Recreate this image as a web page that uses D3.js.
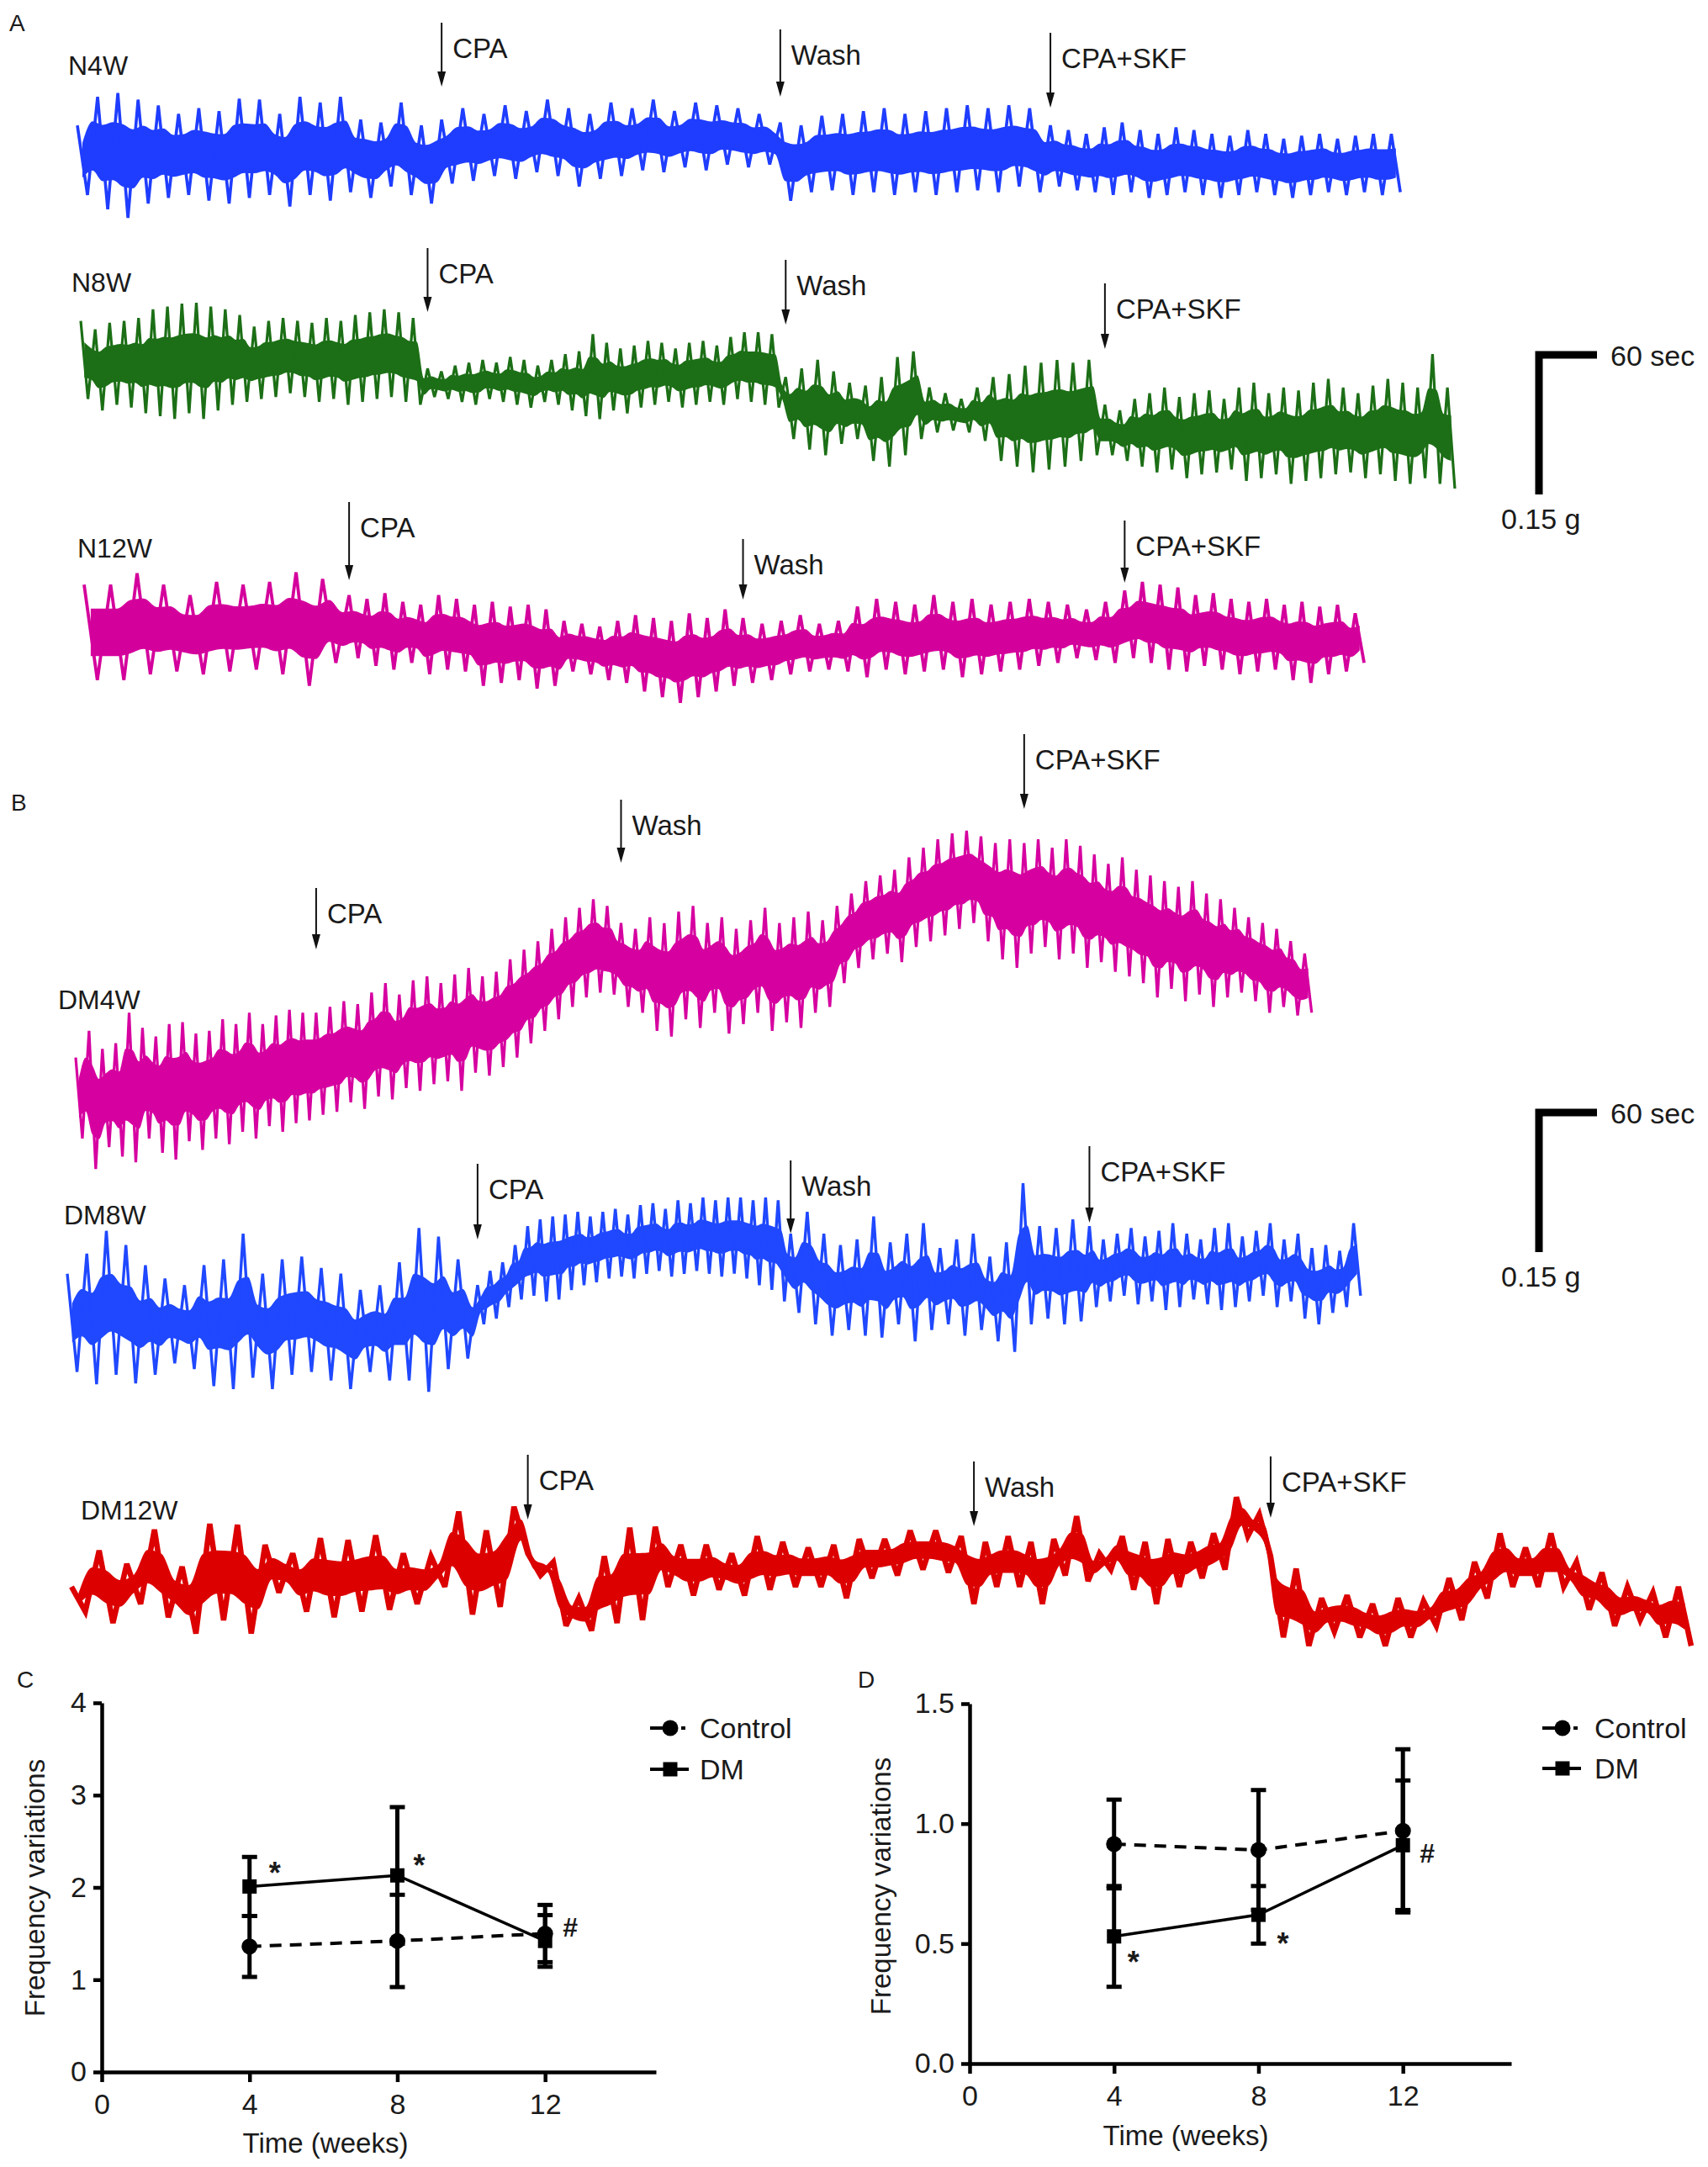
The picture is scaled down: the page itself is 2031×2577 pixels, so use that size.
<!DOCTYPE html>
<html>
<head>
<meta charset="utf-8">
<script src="https://cdn.jsdelivr.net/npm/d3@7/dist/d3.min.js"></script>
<style>
  body { margin: 0; background: #fff; }
  svg text { font-family: "Liberation Sans", Arial, Helvetica, sans-serif; fill: #1a1a1a; }
</style>
</head>
<body>
<svg id="fig" width="2031" height="2577"></svg>
<script>
// ---------- recordings: alternating peak / trough tension (mg), one array per step ----------
var eventLabels = ["CPA", "Wash", "CPA+SKF"];

// event times in s: CPA, Wash, CPA+SKF, end of record
var n4wTimes = [356, 687, 951, 1293];
var n4wBase = [29,-44,59,-59,63,-68,56,-53,50,-47,41,-44,47,-50,44,-53,57,-47,56,-44,41,-56,59,-44,53,-50,59,-41,35,-47,32,-35,53,-44,29,-53];
var n4wCpa  = [35,-32,47,-29,41,-24,50,-27,44,-20,56,-24,47,-35,41,-27,53,-24,47,-18,56,-20,44,-15,53,-18,50,-12,47,-15,41,-12];
var n4wWash = [32,-50,29,-41,39,-39,41,-44,44,-41,47,-44,41,-41,44,-44,47,-41,50,-39,47,-41,50,-35,47,-41];
var n4wSkf  = [29,-35,24,-39,20,-41,27,-44,32,-41,24,-47,20,-44,27,-41,24,-44,20,-47,18,-44,24,-41,20,-44,15,-47,18,-44,20,-41,15,-44,18,-41,20,-44,20,-41];

var n8wTimes = [339, 689, 1001, 1343];
var n8wBase = [41,-41,32,-53,39,-47,41,-50,44,-56,53,-59,56,-62,59,-56,60,-62,56,-53,53,-47,47,-44,35,-41,41,-39,44,-35,41,-39,39,-44,44,-41,41,-47,47,-44,50,-41,53,-39,50,-44,44,-47];
var n8wCpa  = [-9,-39,-12,-41,-6,-44,-3,-47,0,-41,-3,-44,3,-47,0,-50,-6,-44,0,-47,6,-53,9,-59,27,-62,18,-53,12,-56,15,-50,20,-47,18,-44,12,-50,18,-47,20,-44,15,-47,24,-41,29,-44,29,-47,27,-50];
var n8wWash = [-18,-83,-9,-94,0,-100,-12,-88,-24,-83,-27,-106,-18,-112,3,-100,9,-83,-29,-76,-35,-74,-41,-76,-29,-85,-18,-106,-15,-112,-6,-118,-3,-115,0,-112,-3,-106,0,-100];
var n8wSkf  = [-47,-100,-53,-106,-41,-112,-35,-118,-29,-115,-39,-124,-35,-120,-32,-118,-41,-115,-29,-127,-24,-124,-35,-120,-29,-130,-32,-127,-24,-124,-20,-120,-29,-118,-35,-124,-27,-120,-20,-127,-24,-130,-29,-124,6,-130,-29,-135];

var n12wTimes = [259, 644, 1017, 1251];
var n12wBase = [50,-50,50,-50,62,-44,50,-41,39,-44,53,-41,50,-39,53,-44,63,-56,56,-32];
var n12wCpa  = [39,-27,35,-35,41,-39,32,-32,29,-44,39,-39,35,-41,29,-56,32,-53,27,-50,29,-59,24,-56,12,-41,9,-44,6,-50,12,-53,18,-62,15,-68,12,-74,20,-68,15,-62,24,-56];
var n12wWash = [15,-53,9,-50,12,-44,18,-41,9,-39,12,-41,27,-47,35,-39,32,-44,29,-41,39,-39,32,-47,35,-44,29,-41,32,-39,35,-35,32,-32,29,-27,24,-29,32,-32];
var n12wSkf  = [44,-27,53,-32,50,-39,47,-41,39,-35,41,-39,35,-44,32,-41,35,-39,29,-50,32,-53,27,-44,29,-41,20,-32];

var dm4wTimes = [235, 533, 927, 1208];
var dm4wBase = [41,-44,69,-76,50,-53,56,-63,88,-69,72,-44,63,-59,76,-66,78,-47,66,-56,69,-44,81,-50,76,-37,88,-44,76,-31,85,-37,91,-28,88,-25];
var dm4wCpa  = [88,-19,94,-16,100,-6,97,-13,109,0,119,-3,107,9,122,6,126,13,119,16,128,6,135,25,126,22,131,31,144,41,154,56,163,69,176,81,188,94,198,104,207,109,200,107];
var dm4wWash = [182,94,176,88,188,69,182,63,194,81,200,72,182,88,188,66,176,76,185,88,198,69,182,78,188,72,194,88,185,94,200,119,213,135,226,144,232,150,238,141,251,157,261,163,270,169,276,176,279,182,273,163,266,144,270,135];
var dm4wSkf  = [266,150,270,157,261,144,270,150,263,135,254,141,244,131,251,126,238,119,232,104,226,113,220,100,226,107,213,94,207,104,198,109,188,100,182,88,176,94,163,85,150,88];

var dm8wTimes = [401, 707, 999, 1264];
var dm8wBase = [47,-56,68,-69,92,-59,77,-68,56,-59,42,-47,35,-53,56,-71,62,-74,89,-62,47,-74,62,-59,65,-56,53,-65,47,-74,30,-56,35,-65,59,-65,95,-77,86,-53,62,-42];
var dm8wCpa  = [35,-6,50,0,59,12,77,20,97,24,104,18,107,20,109,30,112,35,107,38,112,42,115,44,109,42,119,47,121,50,115,44,124,47,121,50,127,47,124,44,127,47,127,42,124,35,127,30,124,18];
var dm8wWash = [89,6,112,-6,89,-18,77,-12,83,-18,107,-20,80,-6,89,-24,100,-12,74,-6,83,-18,89,-12,65,-24,80,-35,142,-6,97,0,95,-6,104,-3];
var dm8wSkf  = [97,12,83,18,89,24,95,15,86,18,92,9,100,12,89,20,83,15,95,9,100,12,86,18,92,24,100,12,83,18,89,0,74,-6,77,6,71,12,100,24];

var dm12wTimes = [446, 882, 1172, 1583];
var dm12wBase = [0,-26,38,-38,24,-18,60,-32,21,-49,66,-35,65,-49,44,-6,35,-26,51,-32,49,-26,54,-24,35,-18,32,0,79,-29,59,-21,84];
var dm12wCpa  = [35,12,26,-41,-12,-46,32,-38,62,-35,63,0,44,-9,44,-3,35,-9,53,-3,47,0,41,0,44,-12,50,9,50,12,59,18,59,15,53];
var dm12wWash = [-18,47,0,53,0,47,-18,50,12,74,6,35,18,53,-3,47,-18,50,0,47,9,56,18,94,53,76];
var dm12wSkf  = [32,-53,19,-62,-12,-47,-9,-53,-18,-62,-12,-53,-15,-41,9,-35,26,-12,56,0,41,0,56,0,26,-24,15,-41,0,-35,-6,-53,0,-62];

// ---------- summary charts ----------
var weeks = [4, 8, 12];
var weekTicks = [0, 4, 8, 12];
var ctrlC = [1.36, 1.42, 1.50], ctrlErrC = [0.33, 0.50, 0.31];
var dmC   = [2.01, 2.13, 1.42], dmErrC   = [0.32, 0.74, 0.28];
var sigC  = ["*", "*", "#"];
var ctrlD = [0.915, 0.89, 0.97], ctrlErrD = [0.185, 0.25, 0.34];
var dmD   = [0.53, 0.62, 0.91],  dmErrD   = [0.21, 0.12, 0.27];
var sigD  = ["*", "*", "#"];

var svg = d3.select('#fig');
var pxPerSec = 73 / 60;    // 60 sec bar
var pxPerMg = 170 / 150;   // 0.15 g bar

var traces = [
  {name: 'N4W',   color: '#1f3dff', times: n4wTimes,  segs: [n4wBase, n4wCpa, n4wWash, n4wSkf],     x0: 92, base: 182,  lx: 81, ly: 89,   tops: [27, 35, 39],       tips: [103, 115, 128],    sw: 3.6, core: 0.5},
  {name: 'N8W',   color: '#1c6f16', times: n8wTimes,  segs: [n8wBase, n8wCpa, n8wWash, n8wSkf],     x0: 96, base: 428,  lx: 85, ly: 347,  tops: [295, 309, 337],    tips: [371, 386, 415],    sw: 3.2, core: 0.45},
  {name: 'N12W',  color: '#d4009c', times: n12wTimes, segs: [n12wBase, n12wCpa, n12wWash, n12wSkf], x0: 100, base: 752, lx: 92, ly: 663,  tops: [597, 641, 619],    tips: [690, 713, 693],    sw: 3.8, core: 0.5},
  {name: 'DM4W',  color: '#d600a0', times: dm4wTimes, segs: [dm4wBase, dm4wCpa, dm4wWash, dm4wSkf], x0: 90, base: 1304, lx: 69, ly: 1200, tops: [1056, 951, 873],   tips: [1129, 1026, 962],  sw: 3.2, core: 0.5},
  {name: 'DM8W',  color: '#1f48ff', times: dm8wTimes, segs: [dm8wBase, dm8wCpa, dm8wWash, dm8wSkf], x0: 80, base: 1568, lx: 76, ly: 1456, tops: [1384, 1380, 1363], tips: [1474, 1467, 1454], sw: 3.4, core: 0.4},
  {name: 'DM12W', color: '#dc0000', times: dm12wTimes, segs: [dm12wBase, dm12wCpa, dm12wWash, dm12wSkf], x0: 85, base: 1887, lx: 96, ly: 1807, tops: [1730, 1738, 1732], tips: [1807, 1815, 1805], sw: 6.5, core: 0.45}
];

function tracePoints(tr) {
  var pts = [], t0 = 0;
  tr.segs.forEach(function(vals, k) {
    var t1 = tr.times[k];
    var last = k === tr.segs.length - 1;
    var step = (t1 - t0) / (last ? vals.length - 1 : vals.length);
    vals.forEach(function(v, i) { pts.push([t0 + i * step, v]); });
    t0 = t1;
  });
  return pts;
}

function drawTrace(tr) {
  var end = tr.times[tr.times.length - 1];
  var x = d3.scaleLinear().domain([0, end]).range([tr.x0, tr.x0 + end * pxPerSec]);
  var y = d3.scaleLinear().domain([0, 150]).range([tr.base, tr.base - 150 * pxPerMg]);
  var pts = tracePoints(tr);
  var g = svg.append('g');

  // dense core of the recording
  var band = d3.pairs(pts).map(function(p) {
    var c = (p[0][1] + p[1][1]) / 2, h = Math.abs(p[0][1] - p[1][1]) / 2;
    return [(p[0][0] + p[1][0]) / 2, c - h * tr.core, c + h * tr.core];
  });
  g.append('path')
    .attr('d', d3.area().x(function(d) { return x(d[0]); })
      .y0(function(d) { return y(d[1]); }).y1(function(d) { return y(d[2]); })
      .curve(d3.curveMonotoneX)(band))
    .attr('fill', tr.color);

  g.append('path')
    .attr('d', d3.line().x(function(d) { return x(d[0]); }).y(function(d) { return y(d[1]); })(pts))
    .attr('fill', 'none')
    .attr('stroke', tr.color)
    .attr('stroke-width', tr.sw)
    .attr('stroke-linejoin', 'miter')
    .attr('stroke-miterlimit', 3);

  g.append('text').attr('x', tr.lx).attr('y', tr.ly).attr('font-size', 32).text(tr.name);

  // drug arrows
  eventLabels.forEach(function(lab, k) {
    var ax = x(tr.times[k]);
    var top = tr.tops[k], tip = tr.tips[k];
    g.append('line').attr('x1', ax).attr('x2', ax).attr('y1', top).attr('y2', tip - 14)
      .attr('stroke', '#111').attr('stroke-width', 2);
    g.append('path').attr('d', 'M' + (ax - 5) + ',' + (tip - 18) + 'L' + (ax + 5) + ',' + (tip - 18) + 'L' + ax + ',' + tip + 'Z')
      .attr('fill', '#111');
    g.append('text').attr('x', ax + 13).attr('y', top + 42).attr('font-size', 33).text(lab);
  });
}

traces.forEach(drawTrace);

// panel letters
[['A', 11, 37], ['B', 13, 964], ['C', 20, 2007], ['D', 1020, 2007]].forEach(function(p) {
  svg.append('text').attr('x', p[1]).attr('y', p[2]).attr('font-size', 28).text(p[0]);
});

// scale bars
[422, 1323].forEach(function(top) {
  svg.append('path')
    .attr('d', 'M1830,' + (top + 166) + 'V' + top + 'H1899')
    .attr('fill', 'none').attr('stroke', '#000').attr('stroke-width', 9);
  svg.append('text').attr('x', 1915).attr('y', top + 13).attr('font-size', 34).text('60 sec');
  svg.append('text').attr('x', 1785).attr('y', top + 207).attr('font-size', 34).text('0.15 g');
});

// ---------- frequency charts ----------
function drawChart(c) {
  var g = svg.append('g');
  var x = d3.scaleLinear().domain([0, 15]).range([c.left, c.right]);
  var y = d3.scaleLinear().domain([0, c.yMax]).range([c.bottom, c.top]);

  g.append('g').attr('transform', 'translate(0,' + c.bottom + ')')
    .call(d3.axisBottom(x).tickValues(weekTicks).tickSize(12).tickSizeOuter(0).tickPadding(14));
  g.append('g').attr('transform', 'translate(' + c.left + ',0)')
    .call(d3.axisLeft(y).tickValues(c.yTicks).tickFormat(d3.format(c.fmt)).tickSize(10).tickSizeOuter(0).tickPadding(8));
  g.selectAll('.domain, .tick line').attr('stroke', '#000').attr('stroke-width', 4.5);
  g.selectAll('.tick text').attr('font-size', 34).attr('font-family', null).style('fill', '#1a1a1a');

  g.append('text').attr('transform', 'translate(' + c.yTitle[0] + ',' + c.yTitle[1] + ') rotate(-90)')
    .attr('text-anchor', 'middle').attr('dominant-baseline', 'central').attr('font-size', 33).text('Frequency variations');
  g.append('text').attr('x', c.xTitle[0]).attr('y', c.xTitle[1]).attr('text-anchor', 'middle')
    .attr('font-size', 33).text('Time (weeks)');

  var series = [
    {mean: c.ctrl, err: c.ctrlErr, dash: '14,10', sq: false},
    {mean: c.dm, err: c.dmErr, dash: null, sq: true}
  ];
  series.forEach(function(s) {
    s.mean.forEach(function(m, i) {
      var px = x(weeks[i]);
      g.append('line').attr('x1', px).attr('x2', px).attr('y1', y(m - s.err[i])).attr('y2', y(m + s.err[i]))
        .attr('stroke', '#000').attr('stroke-width', 5);
      [m - s.err[i], m + s.err[i]].forEach(function(v) {
        g.append('line').attr('x1', px - 9).attr('x2', px + 9).attr('y1', y(v)).attr('y2', y(v))
          .attr('stroke', '#000').attr('stroke-width', 5);
      });
    });
  });
  series.forEach(function(s) {
    g.append('path')
      .attr('d', d3.line().x(function(d, i) { return x(weeks[i]); }).y(function(d) { return y(d); })(s.mean))
      .attr('fill', 'none').attr('stroke', '#000').attr('stroke-width', s.sq ? 3.5 : 4)
      .attr('stroke-dasharray', s.dash);
    s.mean.forEach(function(m, i) {
      if (s.sq) g.append('rect').attr('x', x(weeks[i]) - 8.5).attr('y', y(m) - 8.5).attr('width', 17).attr('height', 17);
      else g.append('circle').attr('cx', x(weeks[i])).attr('cy', y(m)).attr('r', 9.5);
    });
  });

  c.sig.forEach(function(sym, i) {
    var o = c.sigOff[i];
    g.append('text').attr('x', x(weeks[i]) + o[0]).attr('y', y(c.dm[i]) + o[1] + (sym === '*' ? 19 : 11))
      .attr('text-anchor', 'middle').attr('font-size', sym === '*' ? 36 : 32)
      .attr('font-weight', 'bold').text(sym);
  });

  // legend
  var lx = c.legX, r0 = c.legRows[0], r1 = c.legRows[1];
  g.append('line').attr('x1', lx - 24).attr('x2', lx - 9).attr('y1', r0).attr('y2', r0).attr('stroke', '#000').attr('stroke-width', 4);
  g.append('line').attr('x1', lx + 13).attr('x2', lx + 18).attr('y1', r0).attr('y2', r0).attr('stroke', '#000').attr('stroke-width', 4);
  g.append('circle').attr('cx', lx).attr('cy', r0).attr('r', 9.5);
  g.append('line').attr('x1', lx - 24).attr('x2', lx + 22).attr('y1', r1).attr('y2', r1).attr('stroke', '#000').attr('stroke-width', 4);
  g.append('rect').attr('x', lx - 8.5).attr('y', r1 - 8.5).attr('width', 17).attr('height', 17);
  g.append('text').attr('x', c.legText).attr('y', r0 + 12).attr('font-size', 34).text('Control');
  g.append('text').attr('x', c.legText).attr('y', r1 + 12).attr('font-size', 34).text('DM');
}

drawChart({left: 121, right: 780, bottom: 2464, top: 2025, yMax: 4, yTicks: [0, 1, 2, 3, 4], fmt: 'd',
  ctrl: ctrlC, ctrlErr: ctrlErrC, dm: dmC, dmErr: dmErrC, sig: sigC,
  sigOff: [[30, -22], [26, -18], [30, -16]],
  yTitle: [41, 2245], xTitle: [387, 2560], legX: 797, legText: 832, legRows: [2055, 2104]});

drawChart({left: 1153, right: 1797, bottom: 2454, top: 2026, yMax: 1.5, yTicks: [0, 0.5, 1, 1.5], fmt: '.1f',
  ctrl: ctrlD, ctrlErr: ctrlErrD, dm: dmD, dmErr: dmErrD, sig: sigD,
  sigOff: [[23, 24], [29, 28], [29, 10]],
  yTitle: [1047, 2243], xTitle: [1410, 2551], legX: 1858, legText: 1896, legRows: [2055, 2103]});
</script>
</body>
</html>
